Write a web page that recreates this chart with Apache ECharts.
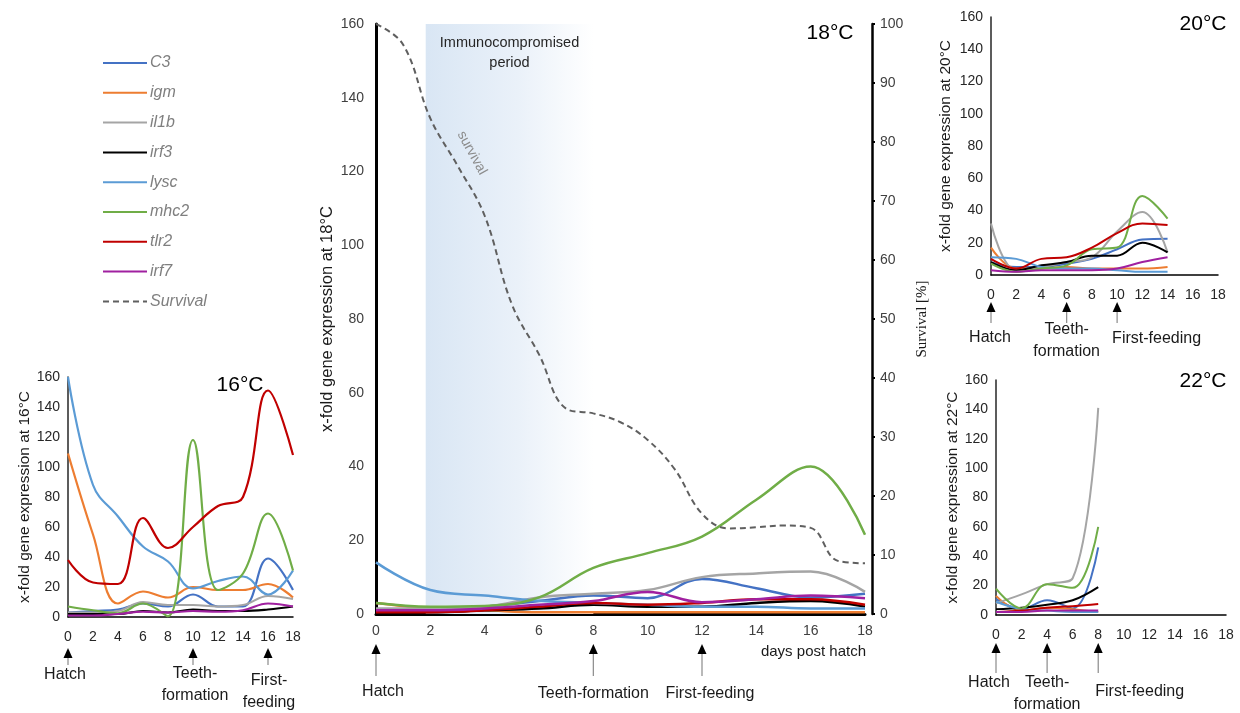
<!DOCTYPE html>
<html>
<head>
<meta charset="utf-8">
<script src="https://cdn.jsdelivr.net/npm/echarts@6/dist/echarts.min.js"></script>
<style>
html,body{margin:0;padding:0;background:#fff;}
#chart{width:1240px;height:713px;}
</style>
</head>
<body>
<div id="chart"></div>
<script>
// ---------------- DATA ----------------
const genes = ['C3', 'igm', 'il1b', 'irf3', 'lysc', 'mhc2', 'tlr2', 'irf7'];
const xTicks = [0, 2, 4, 6, 8, 10, 12, 14, 16, 18];

// 16 °C
const days16 = [0, 2, 4, 6, 8, 10, 12, 14, 16, 18];
const C3_16   = [3, 4, 5, 9, 7, 15, 7, 7, 39, 18];
const igm_16  = [109, 55, 9, 17, 13, 20, 18, 18, 22, 13];
const il1b_16 = [3, 3, 4, 10, 8, 8, 7, 8, 14, 12];
const irf3_16 = [2, 2, 2, 4, 3, 5, 4, 4, 5, 7];
const lysc_16 = [160, 88, 67, 47, 37, 19, 24, 27, 15, 31];
const mhc2_16 = [7, 4.5, 2.5, 9, 0.5, 118, 18, 29, 69, 31];
const tlr2_16 = [38, 23, 22, 66, 46, 60, 74, 80, 151, 108];
const irf7_16 = [1, 1, 2, 3.5, 3, 4, 3.5, 4.5, 9, 7];

// 18 °C
const days18 = [0, 2, 4, 6, 8, 10, 12, 14, 16, 18];
const C3_18   = [1, 1.5, 2, 3.5, 5, 4.3, 9.5, 7, 4.5, 5.5];
const igm_18  = [3, 1.5, 1, 0.5, 0.5, 0.5, 0.5, 0.5, 0.5, 0.5];
const il1b_18 = [1.5, 1.5, 2, 4.5, 5.5, 6.5, 10, 11, 11.5, 6];
const irf3_18 = [0.5, 0.5, 1, 1.5, 2.5, 2, 2, 3, 3.5, 2];
const lysc_18 = [14, 6.5, 5, 3.6, 3, 2.5, 2, 2, 1.5, 1.5];
const mhc2_18 = [3, 2, 2.2, 4.5, 12.5, 16.5, 21, 31, 40, 21.5];
const tlr2_18 = [0.5, 0.5, 1, 2, 3, 2.5, 3, 4, 4, 2.5];
const irf7_18 = [1, 1, 1.5, 2.5, 3.5, 6, 3.2, 4, 5, 4.3];
const survivalDays = [0, 1, 2, 3, 4, 5, 6, 7, 8, 9, 10, 11, 12, 13, 14, 15, 16, 17, 18];
const survival18   = [100, 96.5, 84, 76, 67.5, 52.5, 44, 34.8, 34, 32.5, 29.5, 24.5, 17, 14.5, 14.7, 15, 14.6, 9, 8.6];

// 20 °C
const days20 = [0, 2, 4, 6, 8, 10, 12, 14];
const C3_20   = [8, 5, 5, 7, 10, 16, 22, 22.5];
const igm_20  = [17, 4, 4, 5, 4, 4, 4, 5];
const il1b_20 = [32, 3, 5, 8, 11, 27, 39, 14];
const irf3_20 = [8, 3, 6, 8, 12, 12, 20, 14];
const lysc_20 = [11, 10, 5, 4, 4, 3, 2, 2];
const mhc2_20 = [7, 2, 4, 6, 16, 17, 49, 35];
const tlr2_20 = [10, 4, 10, 11, 17, 26, 32, 31];
const irf7_20 = [3, 2, 3, 3, 3, 4, 8, 11];

// 22 °C
const days22 = [0, 2, 4, 6, 8];
const C3_22   = [11, 4, 10, 4.5, 46];
const igm_22  = [13, 3, 5, 4, 2];
const il1b_22 = [8, 14, 21, 25, 141];
const irf3_22 = [4, 5, 7, 10, 19];
const lysc_22 = [9, 4, 3, 2, 2];
const mhc2_22 = [18, 4.5, 21, 18.5, 60];
const tlr2_22 = [2, 3, 5, 6, 7.5];
const irf7_22 = [2, 2, 3, 3, 3];

// developmental events (day post hatch, label)
const events16 = [{day: 0, label: 'Hatch'}, {day: 10, label: 'Teeth-\nformation'}, {day: 16, label: 'First-\nfeeding'}];
const events18 = [{day: 0, label: 'Hatch'}, {day: 8, label: 'Teeth-formation'}, {day: 12, label: 'First-feeding'}];
const events20 = [{day: 0, label: 'Hatch'}, {day: 6, label: 'Teeth-\nformation'}, {day: 10, label: 'First-feeding'}];
const events22 = [{day: 0, label: 'Hatch'}, {day: 4, label: 'Teeth-\nformation'}, {day: 8, label: 'First-feeding'}];

const immunoPeriod = [1.83, 8.0];

// ---------------- STYLE / LAYOUT ----------------
const colors = {C3: '#4472C4', igm: '#ED7D31', il1b: '#A5A5A5', irf3: '#000000',
  lysc: '#5B9BD5', mhc2: '#70AD47', tlr2: '#C00000', irf7: '#A020A0'};
const FONT = 'Liberation Sans, Arial, sans-serif';

const panels = [
  {name: '16°C', days: days16, vals: {C3: C3_16, igm: igm_16, il1b: il1b_16, irf3: irf3_16, lysc: lysc_16, mhc2: mhc2_16, tlr2: tlr2_16, irf7: irf7_16},
   grid: {left: 68, top: 377, width: 225, height: 240}, lw: 2.2, axisW: 1.5, gap: 32,
   events: events16, ev: {top: 648, bottom: 665, labelY: [675, 685, 692], align: ['center', 'center', 'center'], dx: [-3, 2, 1]},
   temp: {x: 240, y: 385}},
  {name: '18°C', days: days18, vals: {C3: C3_18, igm: igm_18, il1b: il1b_18, irf3: irf3_18, lysc: lysc_18, mhc2: mhc2_18, tlr2: tlr2_18, irf7: irf7_18},
   grid: {left: 376, top: 24, width: 489, height: 590}, lw: 2.5, axisW: 3, gap: 40,
   events: events18, ev: {top: 644, bottom: 676, labelY: [692, 694, 694], align: ['center', 'center', 'center'], dx: [7, 0, 8]},
   temp: {x: 830, y: 33}},
  {name: '20°C', days: days20, vals: {C3: C3_20, igm: igm_20, il1b: il1b_20, irf3: irf3_20, lysc: lysc_20, mhc2: mhc2_20, tlr2: tlr2_20, irf7: irf7_20},
   grid: {left: 991, top: 17, width: 227, height: 258}, lw: 2, axisW: 1.5, gap: 37,
   events: events20, ev: {top: 302, bottom: 323, labelY: [338, 341, 339], align: ['center', 'center', 'left'], dx: [-1, 0, -5]},
   temp: {x: 1203, y: 24}},
  {name: '22°C', days: days22, vals: {C3: C3_22, igm: igm_22, il1b: il1b_22, irf3: irf3_22, lysc: lysc_22, mhc2: mhc2_22, tlr2: tlr2_22, irf7: irf7_22},
   grid: {left: 996, top: 380, width: 230, height: 235}, lw: 2, axisW: 1.5, gap: 35,
   events: events22, ev: {top: 643, bottom: 673, labelY: [683, 694, 692], align: ['center', 'center', 'left'], dx: [-7, 0, -3]},
   temp: {x: 1203, y: 381}}
];

const grids = [], xAxes = [], yAxes = [], series = [];
panels.forEach((p, i) => {
  grids.push(Object.assign({containLabel: false}, p.grid));
  const main = i === 1;
  xAxes.push({
    type: 'value', gridIndex: i, min: 0, max: 18, interval: 2,
    axisLine: {show: true, onZero: false, lineStyle: {color: '#000', width: p.axisW}},
    axisTick: {show: false}, splitLine: {show: false},
    axisLabel: {fontFamily: FONT, fontSize: 14, color: main ? '#404040' : '#262626', margin: main ? 10 : 13}
  });
  yAxes.push({
    type: 'value', gridIndex: i, min: 0, max: 160, interval: 20,
    name: 'x-fold gene expression at ' + p.name, nameLocation: 'middle', nameGap: p.gap, nameRotate: 90,
    nameTextStyle: {fontFamily: FONT, fontSize: main ? 16.5 : 15.5, color: '#1a1a1a'},
    axisLine: {show: true, lineStyle: {color: main ? '#000' : '#262626', width: p.axisW}},
    axisTick: {show: false}, splitLine: {show: false},
    axisLabel: {fontFamily: FONT, fontSize: 14, color: main ? '#404040' : '#262626', margin: main ? 12 : 8}
  });
  genes.forEach(g => {
    const s = {
      name: g, type: 'line', xAxisIndex: i, yAxisIndex: i, smooth: 0.4, symbol: 'none',
      lineStyle: {color: colors[g], width: p.lw}, itemStyle: {color: colors[g]},
      data: p.days.map((d, k) => [d, p.vals[g][k]]), z: 3
    };
    if (main && g === 'C3') {
      s.markArea = {
        silent: true, z: 1,
        itemStyle: {color: {type: 'linear', x: 0, y: 0, x2: 1, y2: 0,
          colorStops: [{offset: 0, color: '#d9e6f4'}, {offset: 0.55, color: '#eaf1f9'}, {offset: 1, color: '#ffffff'}]}},
        label: {show: true, position: 'insideTop', distance: 9, formatter: 'Immunocompromised\nperiod',
          fontFamily: FONT, fontSize: 14.5, lineHeight: 20, color: '#262626'},
        data: [[{xAxis: immunoPeriod[0], yAxis: 0}, {xAxis: immunoPeriod[1], yAxis: 160}]]
      };
    }
    series.push(s);
  });
});

// survival right axis on the 18 °C panel
yAxes.push({
  type: 'value', gridIndex: 1, position: 'right', offset: 7, min: 0, max: 100, interval: 10,
  name: 'Survival [%]', nameLocation: 'middle', nameGap: 43, nameRotate: 90,
  nameTextStyle: {fontFamily: 'Liberation Serif, Times New Roman, serif', fontSize: 15, color: '#1a1a1a'},
  axisLine: {show: true, lineStyle: {color: '#000', width: 2.5}},
  axisTick: {show: true, inside: false, length: 3, lineStyle: {color: '#000', width: 2}},
  splitLine: {show: false},
  axisLabel: {fontFamily: FONT, fontSize: 14, color: '#404040', margin: 8}
});
series.push({
  name: 'Survival', type: 'line', xAxisIndex: 1, yAxisIndex: 4, smooth: 0.4, symbol: 'none',
  lineStyle: {color: '#5f5f5f', width: 2, type: [6, 4]}, itemStyle: {color: '#5f5f5f'},
  data: survivalDays.map((d, k) => [d, survival18[k]]), z: 4
});

const chart = echarts.init(document.getElementById('chart'), null, {renderer: 'canvas'});
chart.setOption({
  animation: false,
  backgroundColor: '#ffffff',
  grid: grids, xAxis: xAxes, yAxis: yAxes, series: series,
  legend: {
    orient: 'vertical', left: 97, top: 50, itemWidth: 44, itemHeight: 14, itemGap: 13.8,
    data: genes.concat(['Survival']),
    itemStyle: {opacity: 0, borderWidth: 0},
    textStyle: {fontFamily: FONT, fontSize: 16, fontStyle: 'italic', color: '#7f7f7f', padding: [0, 0, 0, -2]},
    selectedMode: false
  }
});

// annotations: arrows, event labels, temperature labels
const graphics = [];
panels.forEach((p, i) => {
  p.events.forEach((e, k) => {
    const x = chart.convertToPixel({xAxisIndex: i}, e.day);
    graphics.push({type: 'line', shape: {x1: x, y1: p.ev.top + 8, x2: x, y2: p.ev.bottom},
      style: {stroke: '#8a8a8a', lineWidth: 1.2}, silent: true});
    graphics.push({type: 'polygon', shape: {points: [[x - 4.5, p.ev.top + 10], [x + 4.5, p.ev.top + 10], [x, p.ev.top]]},
      style: {fill: '#000'}, silent: true});
    const align = p.ev.align[k];
    graphics.push({type: 'text', x: x + p.ev.dx[k], y: p.ev.labelY[k],
      style: {text: e.label, fontFamily: FONT, fontSize: 16, lineHeight: 22, fill: '#1a1a1a',
        textAlign: align, textVerticalAlign: 'middle', verticalAlign: 'middle'}, silent: true});
  });
  graphics.push({type: 'text', x: p.temp.x, y: p.temp.y,
    style: {text: p.name, fontFamily: FONT, fontSize: 21, fill: '#000', textAlign: 'center', textVerticalAlign: 'middle', verticalAlign: 'middle'}, silent: true});
});
graphics.push({type: 'text', x: 866, y: 652,
  style: {text: 'days post hatch', fontFamily: FONT, fontSize: 15, fill: '#1a1a1a', textAlign: 'right', textVerticalAlign: 'middle', verticalAlign: 'middle'}, silent: true});
graphics.push({type: 'text', x: 472, y: 153, rotation: -Math.PI * 0.34,
  style: {text: 'survival', fontFamily: FONT, fontSize: 14, fill: '#8c8c8c', textAlign: 'center', textVerticalAlign: 'middle', verticalAlign: 'middle'}, silent: true, z: 10});
chart.setOption({graphic: graphics});
</script>
</body>
</html>
